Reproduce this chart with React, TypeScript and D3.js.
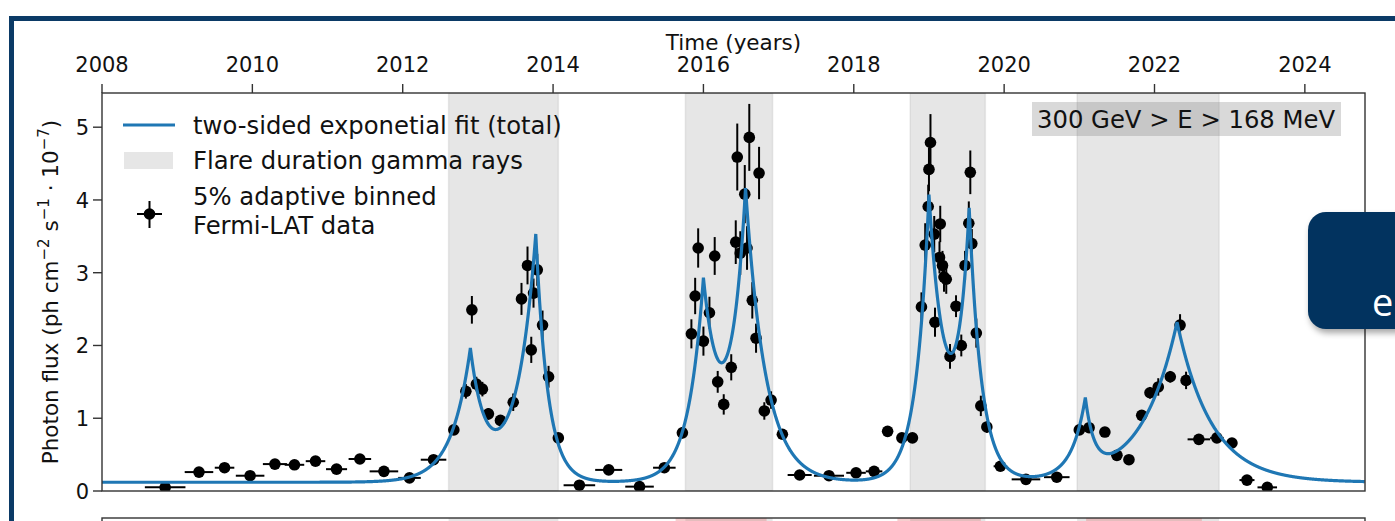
import React, { useRef, useEffect } from 'react';
import * as d3 from 'd3';

const W = 1395;
const H = 521;

const yearTicks = [2008, 2010, 2012, 2014, 2016, 2018, 2020, 2022, 2024];
const fluxTicks = [0, 1, 2, 3, 4, 5];

// Fermi-LAT adaptive binned light curve
const obsTime = [
  2008.84, 2009.29, 2009.63, 2009.97, 2010.30, 2010.56, 2010.84, 2011.12, 2011.43, 2011.75,
  2012.09, 2012.41, 2012.68, 2012.84, 2012.92, 2012.98, 2013.06, 2013.14, 2013.30, 2013.47,
  2013.58, 2013.66, 2013.71, 2013.74, 2013.79, 2013.86, 2013.94, 2014.07, 2014.35, 2014.74,
  2015.15, 2015.48, 2015.72, 2015.84, 2015.89, 2015.93, 2016.00, 2016.08, 2016.15, 2016.19,
  2016.27, 2016.37, 2016.43, 2016.45, 2016.49, 2016.55, 2016.58, 2016.61, 2016.65, 2016.70,
  2016.74, 2016.81, 2016.90, 2017.05, 2017.28, 2017.67, 2018.03, 2018.27, 2018.45, 2018.64,
  2018.78, 2018.90, 2018.95, 2018.99, 2019.00, 2019.02, 2019.07, 2019.08, 2019.14, 2019.15,
  2019.18, 2019.20, 2019.23, 2019.28, 2019.36, 2019.43, 2019.48, 2019.53, 2019.55, 2019.57,
  2019.63, 2019.69, 2019.77, 2019.95, 2020.29, 2020.70, 2021.00, 2021.13, 2021.34, 2021.50,
  2021.66, 2021.83, 2021.94, 2022.05, 2022.21, 2022.34, 2022.42, 2022.59, 2022.83, 2023.03,
  2023.23, 2023.50,
];
const obsFlux = [
  0.05, 0.26, 0.32, 0.21, 0.37, 0.36, 0.41, 0.30, 0.44, 0.27,
  0.18, 0.43, 0.84, 1.37, 2.49, 1.47, 1.40, 1.06, 0.97, 1.22,
  2.64, 3.10, 1.94, 2.72, 3.04, 2.28, 1.57, 0.73, 0.08, 0.29,
  0.06, 0.32, 0.80, 2.16, 2.68, 3.34, 2.06, 2.45, 3.23, 1.50,
  1.19, 1.70, 3.42, 4.59, 3.27, 4.08, 3.34, 4.86, 2.62, 2.10,
  4.37, 1.10, 1.25, 0.78, 0.22, 0.21, 0.25, 0.27, 0.82, 0.73,
  0.73, 2.53, 3.38, 3.91, 4.42, 4.79, 3.53, 2.32, 3.21, 3.67,
  3.10, 2.94, 2.91, 1.85, 2.54, 2.00, 3.10, 3.68, 4.38, 3.40,
  2.17, 1.17, 0.88, 0.34, 0.16, 0.19, 0.84, 0.87, 0.81, 0.49,
  0.43, 1.04, 1.35, 1.43, 1.57, 2.28, 1.52, 0.71, 0.73, 0.66,
  0.15, 0.05,
];
const obsTimeErr = [
  0.27, 0.19, 0.13, 0.19, 0.16, 0.13, 0.13, 0.14, 0.15, 0.19,
  0.15, 0.17, 0.05, 0.03, 0.02, 0.03, 0.03, 0.04, 0.05, 0.04,
  0.02, 0.02, 0.02, 0.02, 0.02, 0.02, 0.03, 0.05, 0.21, 0.18,
  0.19, 0.15, 0.05, 0.02, 0.02, 0.02, 0.02, 0.02, 0.02, 0.03,
  0.03, 0.03, 0.02, 0.02, 0.02, 0.02, 0.02, 0.02, 0.02, 0.02,
  0.02, 0.03, 0.03, 0.05, 0.16, 0.20, 0.13, 0.11, 0.05, 0.05,
  0.04, 0.02, 0.02, 0.02, 0.02, 0.02, 0.02, 0.02, 0.02, 0.02,
  0.02, 0.02, 0.02, 0.02, 0.02, 0.02, 0.02, 0.02, 0.02, 0.02,
  0.02, 0.03, 0.04, 0.09, 0.19, 0.17, 0.05, 0.05, 0.05, 0.06,
  0.06, 0.04, 0.04, 0.04, 0.04, 0.03, 0.04, 0.15, 0.09, 0.06,
  0.10, 0.13,
];
const obsFluxErr = [
  0.03, 0.03, 0.03, 0.03, 0.03, 0.03, 0.03, 0.03, 0.03, 0.03,
  0.03, 0.04, 0.06, 0.10, 0.19, 0.10, 0.10, 0.08, 0.06, 0.12,
  0.22, 0.26, 0.18, 0.20, 0.22, 0.20, 0.15, 0.06, 0.03, 0.03,
  0.03, 0.04, 0.08, 0.20, 0.25, 0.27, 0.20, 0.22, 0.26, 0.15,
  0.14, 0.18, 0.30, 0.46, 0.30, 0.40, 0.30, 0.46, 0.25, 0.20,
  0.36, 0.12, 0.12, 0.06, 0.03, 0.03, 0.03, 0.03, 0.05, 0.05,
  0.05, 0.20, 0.30, 0.30, 0.30, 0.39, 0.25, 0.20, 0.22, 0.25,
  0.20, 0.20, 0.20, 0.17, 0.15, 0.15, 0.20, 0.30, 0.30, 0.20,
  0.20, 0.14, 0.08, 0.04, 0.03, 0.03, 0.05, 0.06, 0.05, 0.04,
  0.04, 0.07, 0.08, 0.12, 0.08, 0.15, 0.12, 0.04, 0.04, 0.04,
  0.03, 0.03,
];

// flare duration (gamma rays)
const flareStart = [2012.61, 2015.76, 2018.75, 2020.97];
const flareEnd = [2014.07, 2016.92, 2019.75, 2022.86];
// bands of the panel below
const lowerStart = [2015.63, 2018.58, 2021.09];
const lowerEnd = [2016.84, 2019.69, 2022.63];

// two-sided exponential fit parameters
const fitBaseline = 0.12;
const peakTime = [2012.90, 2013.77, 2016.00, 2016.56, 2019.00, 2019.535, 2021.08, 2022.30];
const peakAmp = [1.74, 3.39, 2.58, 3.84, 3.83, 3.43, 1.00, 2.20];
const peakRise = [0.25, 0.25, 0.20, 0.20, 0.17, 0.16, 0.17, 0.47];
const peakDecay = [0.20, 0.16, 0.22, 0.27, 0.22, 0.16, 0.12, 0.46];

const fitValue = (t: number) =>
  fitBaseline +
  peakTime.reduce((s, t0, i) => {
    const dt = t - t0;
    return s + peakAmp[i] * (dt < 0 ? Math.exp(dt / peakRise[i]) : Math.exp(-dt / peakDecay[i]));
  }, 0);

const FONT = 'DejaVu Sans, sans-serif';

const App: React.FC = () => {
  const ref = useRef<SVGSVGElement>(null);

  useEffect(() => {
    if (!ref.current) return;
    const svg = d3.select(ref.current);
    svg.selectAll('*').remove();

    const left = 102, right = 1365, top = 93, bottom = 491;
    const x = d3.scaleLinear().domain([2008, 2024.8]).range([left, right]);
    const y = d3.scaleLinear().domain([0, 5.47]).range([bottom, top]);

    svg.append('rect').attr('width', W).attr('height', H).attr('fill', '#fff');

    const defs = svg.append('defs');
    defs.append('clipPath').attr('id', 'plotclip')
      .append('rect').attr('x', left).attr('y', top).attr('width', right - left).attr('height', bottom - top);
    const blur = defs.append('filter').attr('id', 'shadow').attr('x', '-20%').attr('y', '-20%').attr('width', '140%').attr('height', '140%');
    blur.append('feGaussianBlur').attr('stdDeviation', 3);

    // flare bands
    const plot = svg.append('g').attr('clip-path', 'url(#plotclip)');
    flareStart.forEach((s, i) => {
      plot.append('rect')
        .attr('x', x(s)).attr('y', top).attr('width', x(flareEnd[i]) - x(s)).attr('height', bottom - top)
        .attr('fill', 'grey').attr('fill-opacity', 0.2)
        .attr('stroke', 'grey').attr('stroke-opacity', 0.15).attr('stroke-width', 1.5);
    });

    // error bars
    const eb = plot.append('g').attr('stroke', '#000').attr('stroke-width', 2);
    obsTime.forEach((t, i) => {
      const f = obsFlux[i];
      eb.append('line').attr('x1', x(t - obsTimeErr[i])).attr('x2', x(t + obsTimeErr[i]))
        .attr('y1', y(f)).attr('y2', y(f));
      eb.append('line').attr('x1', x(t)).attr('x2', x(t))
        .attr('y1', y(f - obsFluxErr[i])).attr('y2', y(f + obsFluxErr[i]));
    });
    plot.append('g').selectAll('circle').data(obsTime).enter().append('circle')
      .attr('cx', d => x(d)).attr('cy', (d, i) => y(obsFlux[i])).attr('r', 5.8).attr('fill', '#000');

    // fit curve
    const grid = d3.range(2008, 2024.8, 0.002).concat(peakTime).sort((a, b) => a - b);
    const line = d3.line<number>().x(d => x(d)).y(d => y(fitValue(d)));
    plot.append('path').datum(grid).attr('d', line)
      .attr('fill', 'none').attr('stroke', '#1f77b4').attr('stroke-width', 3.2);

    // axes
    const axisColor = '#333';
    svg.append('rect').attr('x', left).attr('y', top).attr('width', right - left).attr('height', bottom - top)
      .attr('fill', 'none').attr('stroke', axisColor).attr('stroke-width', 1.4);

    const topAxis = svg.append('g');
    yearTicks.forEach(t => {
      topAxis.append('line').attr('x1', x(t)).attr('x2', x(t)).attr('y1', top).attr('y2', top - 9)
        .attr('stroke', axisColor).attr('stroke-width', 1.4);
      topAxis.append('text').attr('x', x(t)).attr('y', 72).attr('text-anchor', 'middle')
        .attr('font-family', FONT).attr('font-size', 21).attr('fill', '#111').text(t);
    });
    svg.append('text').attr('x', (left + right) / 2).attr('y', 50).attr('text-anchor', 'middle')
      .attr('font-family', FONT).attr('font-size', 21.5).attr('fill', '#111').text('Time (years)');

    const leftAxis = svg.append('g');
    fluxTicks.forEach(v => {
      leftAxis.append('line').attr('x1', left).attr('x2', left - 9).attr('y1', y(v)).attr('y2', y(v))
        .attr('stroke', axisColor).attr('stroke-width', 1.4);
      leftAxis.append('text').attr('x', 89).attr('y', y(v) + 8).attr('text-anchor', 'end')
        .attr('font-family', FONT).attr('font-size', 21).attr('fill', '#111').text(v);
    });

    const yl = svg.append('text').attr('transform', `translate(58,${(top + bottom) / 2}) rotate(-90)`)
      .attr('text-anchor', 'middle').attr('font-family', FONT).attr('font-size', 21.5).attr('fill', '#111');
    yl.append('tspan').text('Photon flux (ph cm');
    yl.append('tspan').attr('baseline-shift', 'super').attr('font-size', 15).text('\u22122');
    yl.append('tspan').text(' s');
    yl.append('tspan').attr('baseline-shift', 'super').attr('font-size', 15).text('\u22121');
    yl.append('tspan').text(' \u00b7 10');
    yl.append('tspan').attr('baseline-shift', 'super').attr('font-size', 15).text('\u22127');
    yl.append('tspan').text(')');

    // energy range box
    svg.append('rect').attr('x', 1032).attr('y', 102).attr('width', 309).attr('height', 34)
      .attr('fill', 'grey').attr('fill-opacity', 0.3);
    svg.append('text').attr('x', 1037).attr('y', 127.5).attr('font-family', FONT).attr('font-size', 24.3)
      .attr('fill', '#111').text('300 GeV > E > 168 MeV');

    // legend
    const lg = svg.append('g').attr('font-family', FONT).attr('font-size', 24.3).attr('fill', '#111');
    lg.append('line').attr('x1', 123).attr('x2', 175).attr('y1', 125).attr('y2', 125)
      .attr('stroke', '#1f77b4').attr('stroke-width', 3.2);
    lg.append('text').attr('x', 193).attr('y', 133.5).text('two-sided exponetial fit (total)');
    lg.append('rect').attr('x', 124).attr('y', 152).attr('width', 49).attr('height', 17)
      .attr('fill', 'grey').attr('fill-opacity', 0.2);
    lg.append('text').attr('x', 193).attr('y', 168.5).text('Flare duration gamma rays');
    lg.append('line').attr('x1', 137).attr('x2', 162).attr('y1', 214).attr('y2', 214).attr('stroke', '#000').attr('stroke-width', 2);
    lg.append('line').attr('x1', 149.5).attr('x2', 149.5).attr('y1', 201).attr('y2', 228).attr('stroke', '#000').attr('stroke-width', 2);
    lg.append('circle').attr('cx', 149.5).attr('cy', 214).attr('r', 5.8).attr('fill', '#000');
    lg.append('text').attr('x', 193).attr('y', 205).text('5% adaptive binned');
    lg.append('text').attr('x', 193).attr('y', 234).text('Fermi-LAT data');

    // panel below (cut off)
    const low = svg.append('g');
    low.append('rect').attr('x', left).attr('y', 518).attr('width', right - left).attr('height', 20).attr('fill', '#fff');
    flareStart.forEach((s, i) => {
      low.append('rect').attr('x', x(s)).attr('y', 518).attr('width', x(flareEnd[i]) - x(s)).attr('height', 10)
        .attr('fill', 'grey').attr('fill-opacity', 0.2);
    });
    lowerStart.forEach((s, i) => {
      low.append('rect').attr('x', x(s)).attr('y', 518).attr('width', x(lowerEnd[i]) - x(s)).attr('height', 10)
        .attr('fill', '#e06060').attr('fill-opacity', 0.3);
    });
    low.append('rect').attr('x', left).attr('y', 518).attr('width', right - left).attr('height', 20)
      .attr('fill', 'none').attr('stroke', axisColor).attr('stroke-width', 1.4);

    // slide frame and side box
    svg.append('rect').attr('x', 9).attr('y', 16).attr('width', W).attr('height', 5).attr('fill', '#0b3a66');
    svg.append('rect').attr('x', 9).attr('y', 16).attr('width', 5).attr('height', H).attr('fill', '#0b3a66');
    svg.append('rect').attr('x', 1310).attr('y', 216).attr('width', 120).attr('height', 117).attr('rx', 18)
      .attr('fill', '#000').attr('fill-opacity', 0.35).attr('filter', 'url(#shadow)');
    svg.append('rect').attr('x', 1308).attr('y', 212).attr('width', 120).attr('height', 117).attr('rx', 18)
      .attr('fill', '#02335f');
    svg.append('text').attr('x', 1372).attr('y', 316).attr('font-family', 'Open Sans, sans-serif')
      .attr('font-size', 38).attr('fill', '#fff').text('e');
  }, []);

  return (
    <svg ref={ref} width={W} height={H} style={{ position: 'absolute', left: 0, top: 0, display: 'block' }} />
  );
};

export default App;
